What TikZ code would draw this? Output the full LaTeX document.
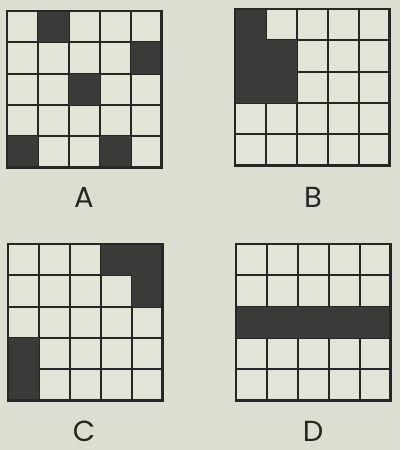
\documentclass[tikz,border=0pt]{standalone}
\usepackage{fontspec}
\setmainfont{Poppins}
\definecolor{paper}{RGB}{222,221,209}
\definecolor{cellbg}{RGB}{228,227,216}
\definecolor{ink}{RGB}{38,38,36}
\definecolor{shade}{RGB}{58,58,56}
\newcommand{\quadgrid}[3]{%
  \begin{scope}[shift={#1}, x=30.9pt, y=-31.3pt]
    \fill[cellbg] (0,0) rectangle (5,5);
    \foreach \k in {0,...,5} {
      \draw[gridline] (\k,0) -- (\k,5);
      \draw[gridline] (0,\k) -- (5,\k);
    }
    \foreach \c/\r in {#2} {
      \fill[cellfill] (\c,\r) rectangle ++(1,1);
    }
    \draw[gridline] (0,0) rectangle (5,5);
  \end{scope}}
\begin{document}
\begin{tikzpicture}[x=1pt,y=-1pt,
  gridline/.style={ink, line width=2.2pt, line cap=rect},
  cellfill/.style={fill=shade},
  lab/.style={font=\fontsize{29}{29}\selectfont, text=ink, inner sep=0pt}]
\fill[paper] (0,0) rectangle (400,450);
\useasboundingbox (0,0) rectangle (400,450);
\quadgrid{(7,11)}{1/0,4/1,2/2,0/4,3/4}{}
\quadgrid{(235,9)}{0/0,0/1,1/1,0/2,1/2}{}
\quadgrid{(8,244)}{3/0,4/0,4/1,0/3,0/4}{}
\quadgrid{(236,244)}{0/2,1/2,2/2,3/2,4/2}{}
\node[lab] (labA) at (84,197) {A};
\node[lab] (labB) at (313,197) {B};
\node[lab] (labC) at (84,431) {C};
\node[lab] (labD) at (313,431) {D};
\end{tikzpicture}
\end{document}
